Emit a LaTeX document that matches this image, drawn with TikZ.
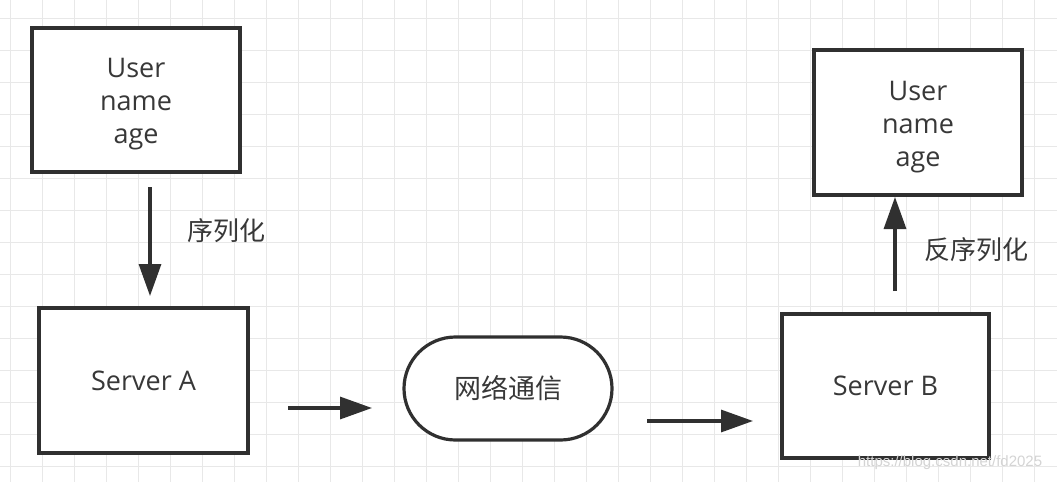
\documentclass[tikz,border=0pt]{standalone}
\usepackage{fontspec}
\setmainfont{Open Sans}
\newfontfamily\cjk{Noto Sans CJK SC}
\newfontfamily\wmfont{Liberation Sans}
\usetikzlibrary{arrows.meta,shapes.misc}
\definecolor{gridc}{HTML}{E8E8E8}
\definecolor{ink}{HTML}{303030}
\definecolor{txt}{HTML}{383838}
\definecolor{wm}{HTML}{D4D4D4}
\tikzset{
  box/.style={draw=ink, line width=3.2pt, fill=white, inner sep=0pt,
    text=txt, align=center, font=\fontsize{27}{33}\selectfont},
  pill/.style={box, rounded rectangle},
  lbl/.style={text=txt, inner sep=0pt, font=\cjk\fontsize{26}{30}\selectfont},
  arr/.style={draw=ink, line width=3.2pt, -{Triangle[length=32pt,width=22pt]}},
  gridline/.style={draw=gridc, line width=1pt}
}
\begin{document}
\begin{tikzpicture}[x=1pt,y=-1pt]
\useasboundingbox (0,0) rectangle (1057,482);
\fill[white] (0,0) rectangle (1057,482);
% grid
\foreach \x in {10.5,42.5,...,1057} \draw[gridline] (\x,0) -- (\x,482);
\foreach \y in {18.5,50.5,...,482} \draw[gridline] (0,\y) -- (1057,\y);
% nodes
\node[box, minimum width=208pt, minimum height=144pt] (user1) at (136,100) {\rule{0pt}{28pt}User\\name\\age};
\node[box, minimum width=209pt, minimum height=145pt] (serverA) at (143.5,380.5) {Server A};
\node[pill, minimum width=208pt, minimum height=103pt] (net) at (508,388.5) {\cjk 网络通信};
\node[box, minimum width=207pt, minimum height=144pt] (serverB) at (885.5,386) {Server B};
\node[box, minimum width=208pt, minimum height=145pt] (user2) at (918,122.5) {\rule{0pt}{28pt}User\\name\\age};
% labels
\node[lbl] (l1) at (226,231) {序列化};
\node[lbl] (l2) at (976,250) {反序列化};
% arrow end points
\coordinate (a1s) at (150,187);
\coordinate (a1e) at (150,296);
\coordinate (a2s) at (288,408);
\coordinate (a2e) at (372,408);
\coordinate (a3s) at (647,421);
\coordinate (a3e) at (753,421);
\coordinate (a4s) at (895,291);
\coordinate (a4e) at (895,197);
\draw[arr] (a1s) -- (a1e);
\draw[arr] (a2s) -- (a2e);
\draw[arr] (a3s) -- (a3e);
\draw[arr] (a4s) -- (a4e);
% watermark
\node[text=wm, inner sep=0pt, font=\wmfont\fontsize{15}{15}\selectfont] (wmark) at (950,463) {https://blog.csdn.net/fd2025};
\end{tikzpicture}
\end{document}
